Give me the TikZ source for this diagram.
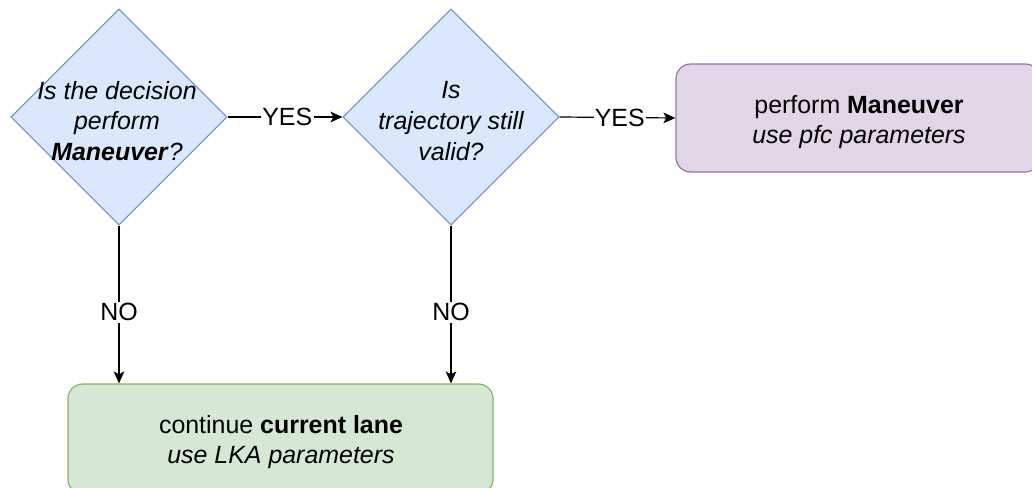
\documentclass[tikz,border=0pt]{standalone}
\usepackage{fontspec}
\setmainfont{Liberation Sans}
\usetikzlibrary{shapes.geometric,arrows.meta}
\definecolor{qfill}{HTML}{DAE8FC}
\definecolor{qline}{HTML}{6C8EBF}
\definecolor{pfill}{HTML}{E1D5E7}
\definecolor{pline}{HTML}{9673A6}
\definecolor{gfill}{HTML}{D5E8D4}
\definecolor{gline}{HTML}{82B366}
\tikzset{
  decision/.style={diamond, draw=qline, fill=qfill, line width=0.8pt,
    inner sep=0pt, minimum width=162pt, minimum height=162pt, aspect=1},
  caption/.style={align=center, inner sep=0pt, font=\fontsize{18.7}{23}\selectfont},
  action/.style={rectangle, rounded corners=11pt, line width=0.9pt},
  conn/.style={draw=black, line width=0.9pt,
    -{Stealth[length=9pt, width=8pt, inset=2.2pt]}},
  lbl/.style={fill=white, inner sep=1pt, font=\fontsize{18.7}{23}\selectfont}
}
\begin{document}
\begin{tikzpicture}[x=0.75pt, y=-0.75pt]
\useasboundingbox (0,0) rectangle (1032,488);

% decisions
\node[decision] (d1) at (119,117) {};
\node[decision] (d2) at (451,117) {};
\node[caption] (q1) at (117,121) {\itshape Is the decision\\ \itshape perform\\ \textbf{\itshape Maneuver}\itshape ?};
\node[caption] (q2) at (451,121) {\itshape Is\\ \itshape trajectory still\\ \itshape valid?};

% outcomes
\node[action, draw=pline, fill=pfill, minimum width=273pt, minimum height=81pt]
  (man) at (858,118) {};
\node[caption] (mant) at (859,122) {perform \textbf{Maneuver}\\ \itshape use pfc parameters};
\node[action, draw=gline, fill=gfill, minimum width=318.75pt, minimum height=82.5pt]
  (lane) at (280.5,439) {};
\node[caption] (lanet) at (281,442) {continue \textbf{current lane}\\ \itshape use LKA parameters};

% connectors
\draw[conn] (d1.east) -- node[lbl, pos=0.52] {YES} (d2.west);
\draw[conn] (d2.east) -- node[lbl, pos=0.52] {YES} (man.west);
\draw[conn] (d1.south) -- node[lbl, pos=0.55] {NO} (d1.south |- lane.north);
\draw[conn] (d2.south) -- node[lbl, pos=0.55] {NO} (d2.south |- lane.north);
\end{tikzpicture}
\end{document}
